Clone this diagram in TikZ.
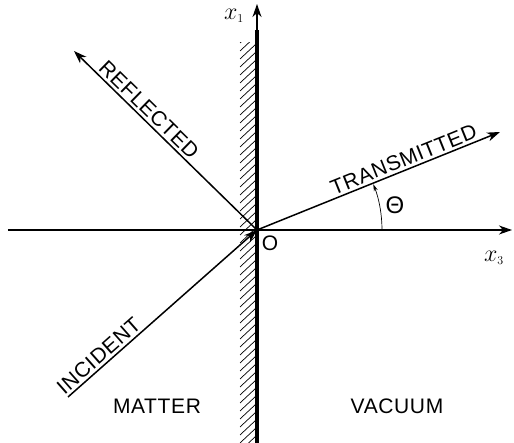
\documentclass[tikz,border=0pt]{standalone}
\usepackage{fix-cm}
\usepackage{amsmath,amssymb}
\usepackage{fontspec}
\usepackage{tikz}
\usetikzlibrary{arrows.meta}
\newfontfamily\lblfont[LetterSpace=3]{Liberation Sans}
\tikzset{
  lbl/.style={font=\lblfont\fontsize{21}{21}\selectfont,inner sep=3pt},
  xlbl/.style={font=\fontsize{24}{24}\selectfont,inner sep=1pt},
  ray/.style={line width=1.5pt,-{Stealth[length=13pt,width=9pt,inset=4pt]}},
  axis/.style={line width=1.1pt,-{Stealth[length=13pt,width=9pt,inset=4pt]}}
}
\begin{document}
\begin{tikzpicture}[x=1pt,y=1pt]
\useasboundingbox (-257,-213) rectangle (257,230);
\coordinate (O) at (0,0);
\coordinate (Xl) at (-249,0);
\coordinate (Xr) at (255,0);
\coordinate (Wt) at (0,200);
\coordinate (Wb) at (0,-213);
\coordinate (Zt) at (0,226);
\coordinate (R) at (-183,179);
\coordinate (T) at (243,98);
\coordinate (I) at (-189,-167);
% hatching of the matter side
\begin{scope}
\clip (-17,-213) rectangle (-1,187);
\foreach \y in {-221,-213,...,187}
  \draw[line width=0.7pt] (-17,\y)--(-1,\y+15);
\end{scope}
\draw[axis] (Xl)--(Xr);
\draw[axis] (Wt)--(Zt);
\draw[line width=4pt] (Wb)--(Wt);
\draw[ray] (O)--(R);
\draw[ray] (O)--(T);
\draw[ray] (I)--(O);
\draw[-{Stealth[length=7pt,width=4pt]},line width=0.7pt] (125,0) arc[start angle=0,end angle=21.5,radius=125];
\path (R)--(O) node[lbl,pos=0.37,sloped,above]{REFLECTED};
\path (O)--(T) node[lbl,pos=0.62,sloped,above]{TRANSMITTED};
\path (I)--(O) node[lbl,pos=0.2,sloped,above]{INCIDENT};
\node[lbl,font=\lblfont\fontsize{24}{24}\selectfont] (th) at (138,25) {Θ};
\node[lbl] (orig) at (13,-13) {O};
\node[xlbl] (x1) at (-23,214) {$x_{\scriptscriptstyle 1}$};
\node[xlbl] (x3) at (237,-28) {$x_{\scriptscriptstyle 3}$};
\node[lbl] (mat) at (-100,-176) {MATTER};
\node[lbl] (vac) at (140,-176) {VACUUM};
\end{tikzpicture}
\end{document}
